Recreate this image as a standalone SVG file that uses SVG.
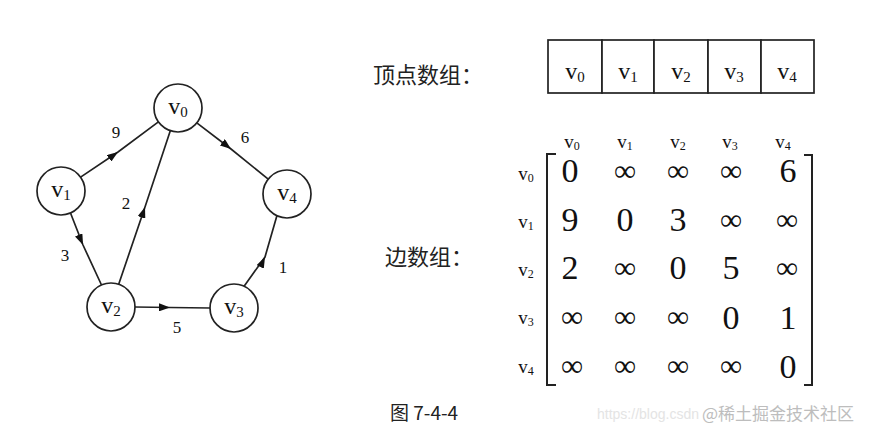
<svg xmlns="http://www.w3.org/2000/svg" width="884" height="438" viewBox="0 0 884 438">
<defs>
<marker id="arr" viewBox="0 0 11 8" refX="11" refY="4" markerWidth="11" markerHeight="8" markerUnits="userSpaceOnUse" orient="auto">
<path d="M0,0 L11,4 L0,8 Z" fill="#111"/>
</marker>
<style>
.node circle{fill:#fff;stroke:#222;stroke-width:1.7}
.edge{fill:none;stroke:#222;stroke-width:1.7;marker-mid:url(#arr)}
.t{font-family:"Liberation Serif","Times New Roman",serif;fill:#111}
.nv{font-size:24px}
.sub{font-size:15px}
.w{font-size:17px}
.cn{font-family:"Noto Sans CJK SC","Noto Sans",sans-serif;fill:#222;font-size:22px}
.num{font-size:34px}
.inf{font-size:31px}
.hd{font-size:19px}
.hs{font-size:12px}
.cell{fill:#fff;stroke:#222;stroke-width:1.7}
.br{fill:none;stroke:#222;stroke-width:2}
</style>
</defs>
<rect width="884" height="438" fill="#fff"/>

<g id="connectors">
<path class="edge" d="M80.6,177.1 L118,152 L158.4,121.9"/>
<path class="edge" d="M196.8,122.9 L231,149 L268.2,179.1"/>
<path class="edge" d="M118.7,284.2 L145,207 L170.3,130.8"/>
<path class="edge" d="M70.5,213 L83,245 L101.5,285"/>
<path class="edge" d="M135,307 L170,307.5 L210,308"/>
<path class="edge" d="M244.1,286.2 L265,257 L276.9,215.8"/>
<text class="t w" x="116" y="138" text-anchor="middle">9</text>
<text class="t w" x="245" y="143" text-anchor="middle">6</text>
<text class="t w" x="126" y="209" text-anchor="middle">2</text>
<text class="t w" x="65" y="261" text-anchor="middle">3</text>
<text class="t w" x="177" y="333" text-anchor="middle">5</text>
<text class="t w" x="283" y="273" text-anchor="middle">1</text>
</g>

<g id="v0" class="node"><circle cx="178" cy="108" r="24"/><text class="t nv" x="178" y="114" text-anchor="middle">v<tspan class="sub" dy="3">0</tspan></text></g>
<g id="v1" class="node"><circle cx="61" cy="191" r="24"/><text class="t nv" x="61" y="197" text-anchor="middle">v<tspan class="sub" dy="3">1</tspan></text></g>
<g id="v2" class="node"><circle cx="111" cy="307" r="24"/><text class="t nv" x="111" y="313" text-anchor="middle">v<tspan class="sub" dy="3">2</tspan></text></g>
<g id="v3" class="node"><circle cx="234" cy="308" r="24"/><text class="t nv" x="234" y="314" text-anchor="middle">v<tspan class="sub" dy="3">3</tspan></text></g>
<g id="v4" class="node"><circle cx="287" cy="194" r="24"/><text class="t nv" x="287" y="200" text-anchor="middle">v<tspan class="sub" dy="3">4</tspan></text></g>

<g id="vertex-array">
<text class="cn" x="373" y="83">顶点数组：</text>
<rect class="cell" x="548" y="40" width="54" height="53"/>
<rect class="cell" x="602" y="40" width="52" height="53"/>
<rect class="cell" x="654" y="40" width="54" height="53"/>
<rect class="cell" x="708" y="40" width="53" height="53"/>
<rect class="cell" x="761" y="40" width="53" height="53"/>
<text class="t nv" x="575" y="79" text-anchor="middle">v<tspan class="sub" dy="3">0</tspan></text>
<text class="t nv" x="628" y="79" text-anchor="middle">v<tspan class="sub" dy="3">1</tspan></text>
<text class="t nv" x="681" y="79" text-anchor="middle">v<tspan class="sub" dy="3">2</tspan></text>
<text class="t nv" x="734" y="79" text-anchor="middle">v<tspan class="sub" dy="3">3</tspan></text>
<text class="t nv" x="787" y="79" text-anchor="middle">v<tspan class="sub" dy="3">4</tspan></text>
</g>

<g id="edge-array">
<text class="cn" x="385" y="265">边数组：</text>
<text class="t hd" x="572" y="148" text-anchor="middle">v<tspan class="hs" dy="2">0</tspan></text>
<text class="t hd" x="625" y="148" text-anchor="middle">v<tspan class="hs" dy="2">1</tspan></text>
<text class="t hd" x="678" y="148" text-anchor="middle">v<tspan class="hs" dy="2">2</tspan></text>
<text class="t hd" x="730" y="148" text-anchor="middle">v<tspan class="hs" dy="2">3</tspan></text>
<text class="t hd" x="783" y="148" text-anchor="middle">v<tspan class="hs" dy="2">4</tspan></text>
<text class="t hd" x="526" y="180" text-anchor="middle">v<tspan class="hs" dy="2">0</tspan></text>
<text class="t hd" x="526" y="228" text-anchor="middle">v<tspan class="hs" dy="2">1</tspan></text>
<text class="t hd" x="526" y="276" text-anchor="middle">v<tspan class="hs" dy="2">2</tspan></text>
<text class="t hd" x="526" y="324" text-anchor="middle">v<tspan class="hs" dy="2">3</tspan></text>
<text class="t hd" x="526" y="373" text-anchor="middle">v<tspan class="hs" dy="2">4</tspan></text>
<path class="br" d="M556,154 L547,154 L547,385 L556,385"/>
<path class="br" d="M804,155 L812,155 L812,385 L804,385"/>
<g class="t" text-anchor="middle">
<text class="num" x="570" y="182">0</text>
<text class="inf" x="625" y="181">∞</text>
<text class="inf" x="678" y="181">∞</text>
<text class="inf" x="731" y="181">∞</text>
<text class="num" x="788" y="182">6</text>
<text class="num" x="570" y="231">9</text>
<text class="num" x="625" y="231">0</text>
<text class="num" x="678" y="231">3</text>
<text class="inf" x="731" y="230">∞</text>
<text class="inf" x="787" y="230">∞</text>
<text class="num" x="570" y="279">2</text>
<text class="inf" x="625" y="278">∞</text>
<text class="num" x="678" y="279">0</text>
<text class="num" x="731" y="279">5</text>
<text class="inf" x="787" y="278">∞</text>
<text class="inf" x="572" y="327">∞</text>
<text class="inf" x="625" y="327">∞</text>
<text class="inf" x="678" y="327">∞</text>
<text class="num" x="731" y="329">0</text>
<text class="num" x="788" y="329">1</text>
<text class="inf" x="572" y="376">∞</text>
<text class="inf" x="625" y="376">∞</text>
<text class="inf" x="678" y="376">∞</text>
<text class="inf" x="731" y="376">∞</text>
<text class="num" x="788" y="378">0</text>
</g>
</g>

<text class="cn" x="390" y="420" style="font-size:19px">图 7-4-4</text>
<text x="597" y="419" style="font-family:'Liberation Sans',sans-serif;font-size:14px;fill:#e4e4e4">https://blog.csdn</text>
<text x="702" y="420" style="font-family:'Noto Sans CJK SC',sans-serif;font-size:17px;fill:#bdbdbd">@稀土掘金技术社区</text>
</svg>
